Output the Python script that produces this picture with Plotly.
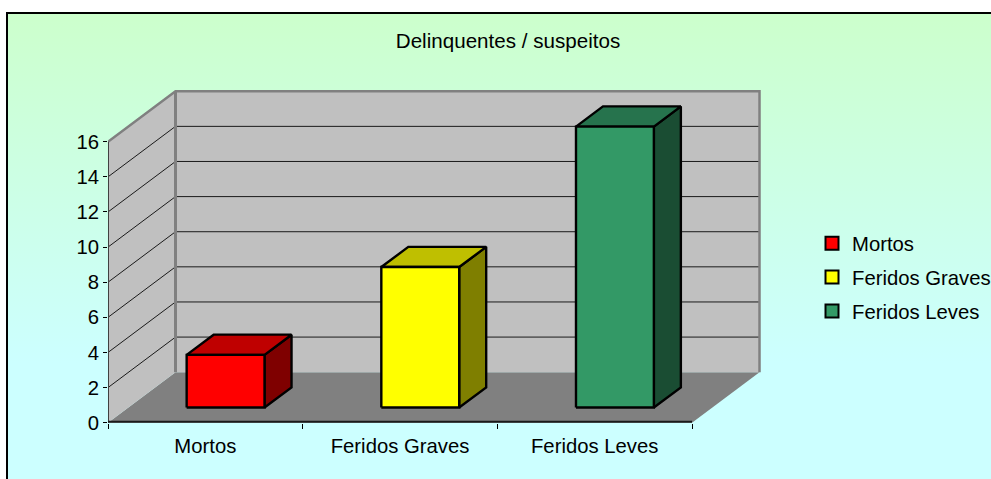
import plotly.graph_objects as go

categories = ["Mortos", "Feridos Graves", "Feridos Leves"]
values = [3, 8, 16]
y_ticks = [0, 2, 4, 6, 8, 10, 12, 14, 16]
front_colors = ["#FF0000", "#FFFF00", "#339966"]
top_colors = ["#BF0000", "#BFBF00", "#26734D"]
side_colors = ["#7F0000", "#7F7F00", "#1A4D33"]
title = "Delinquentes / suspeitos"

W, H = 991, 479
FONT = dict(family="Liberation Sans, Arial, sans-serif", size=20.3, color="#000000")

# scale of the chart axes, in pixels per data unit
PX_CAT = 194.67
PX_VAL = 17.56
LEFT, BOTTOM = 108, 422.7
# oblique projection: depth 0 = front plane, depth 1 = back wall
DX = 67.5 / PX_CAT
DY = 50.5 / PX_VAL
YMAX = y_ticks[-1]
XMIN, XMAX = -0.5, len(categories) - 0.5
PAD_X, PAD_Y = 3 / PX_CAT, 3 / PX_VAL
X_TOP = XMAX + DX + PAD_X
Y_TOP = YMAX + DY + PAD_Y


def proj(cat, val, depth):
    return cat + DX * depth, val + DY * depth


def poly(points, fill=None, line=None, width=0, closed=True):
    pts = [proj(*p) for p in points]
    if closed:
        pts.append(pts[0])
    return go.Scatter(
        x=[p[0] for p in pts], y=[p[1] for p in pts],
        xaxis="x2", yaxis="y2", mode="lines",
        fill="toself" if fill else None,
        fillcolor=fill,
        line=dict(color=line or "rgba(0,0,0,0)", width=width),
        showlegend=False, hoverinfo="skip",
    )


fig = go.Figure()

# chart-area background with vertical gradient
fig.add_trace(go.Scatter(
    x=[0, 1, 1, 0, 0], y=[0, 0, 1, 1, 0], mode="lines", fill="toself",
    fillgradient=dict(type="vertical",
                      colorscale=[[0, "#CCFFFF"], [0.25, "#CCFFFF"], [1, "#CCFFCC"]]),
    line=dict(width=0), showlegend=False, hoverinfo="skip",
))

# walls and floor
fig.add_trace(poly([(XMIN, 0, 0), (XMAX, 0, 0), (XMAX, 0, 1), (XMIN, 0, 1)], fill="#808080"))
fig.add_trace(poly([(XMIN, 0, 0), (XMIN, YMAX, 0), (XMIN, YMAX, 1), (XMIN, 0, 1)], fill="#C0C0C0"))
fig.add_trace(poly([(XMIN, 0, 1), (XMIN, YMAX, 1), (XMAX, YMAX, 1), (XMAX, 0, 1)], fill="#C0C0C0"))

# gridlines
for v in y_ticks[1:-1]:
    fig.add_trace(poly([(XMIN, v, 0), (XMIN, v, 1), (XMAX, v, 1)], line="#1A1A1A", width=1, closed=False))

# wall edges
fig.add_trace(poly([(XMIN, YMAX, 0), (XMIN, YMAX, 1), (XMAX, YMAX, 1), (XMAX, 0, 1)],
                   line="#808080", width=2.5, closed=False))
fig.add_trace(poly([(XMIN, 0, 1), (XMIN, YMAX, 1)], line="#808080", width=3, closed=False))

# front axis lines (the real axes extend further, to hold the depth of the chart)
fig.add_trace(poly([(XMIN, 0, 0), (XMIN, YMAX, 0)], line="#404040", width=2, closed=False))
fig.add_trace(poly([(XMIN, 0, 0), (XMAX, 0, 0)], line="#1A1A1A", width=4, closed=False))

# bars
BW = 0.2
D0, D1 = 0.3, 0.7
for i, (name, v) in enumerate(zip(categories, values)):
    l, r = i - BW, i + BW
    fig.add_trace(poly([(r, 0, D0), (r, 0, D1), (r, v, D1), (r, v, D0)],
                       fill=side_colors[i], line="#000000", width=2.4))
    fig.add_trace(poly([(l, v, D0), (r, v, D0), (r, v, D1), (l, v, D1)],
                       fill=top_colors[i], line="#000000", width=2.4))
    fig.add_trace(poly([(l, 0, D0), (r, 0, D0), (r, v, D0), (l, v, D0)],
                       fill=front_colors[i], line="#000000", width=2.4))

# legend entries
for i, name in enumerate(categories):
    fig.add_trace(go.Scatter(
        x=[None], y=[None], xaxis="x2", yaxis="y2", mode="markers", name=name,
        legendgroup=name,
        marker=dict(symbol="square", size=13, color=front_colors[i],
                    line=dict(color="#000000", width=2)),
    ))

fig.update_layout(
    width=W, height=H, margin=dict(l=0, r=0, t=0, b=0, autoexpand=False),
    paper_bgcolor="#FFFFFF", plot_bgcolor="rgba(0,0,0,0)",
    font=FONT,
    title=dict(text=title, x=508 / W, xanchor="center", y=1 - 41 / H, yanchor="middle",
               font=dict(family=FONT["family"], size=20.6, color="#000000")),
    xaxis=dict(domain=[8 / W, 1], range=[0, 1], side="top", showline=True, linecolor="#000000",
               linewidth=1.5, showgrid=False, zeroline=False, showticklabels=False, ticks=""),
    yaxis=dict(domain=[0, 1 - 14 / H], range=[0, 1], side="left", showline=True, linecolor="#000000",
               linewidth=1.5, showgrid=False, zeroline=False, showticklabels=False, ticks=""),
    xaxis2=dict(domain=[LEFT / W, (LEFT + (X_TOP - XMIN) * PX_CAT) / W], range=[XMIN, X_TOP], anchor="y2",
                tickmode="array", tickvals=list(range(len(categories))), ticktext=categories,
                ticks="outside", ticklen=5, tickwidth=0, tickcolor="rgba(0,0,0,0)",
                showline=False, showgrid=False, zeroline=False,
                minor=dict(tickmode="array", tickvals=[XMIN + k for k in range(len(categories) + 1)],
                           ticks="outside", ticklen=5, tickwidth=1, tickcolor="#000000", showgrid=False),
                ),
    yaxis2=dict(domain=[(H - BOTTOM) / H, (H - BOTTOM + Y_TOP * PX_VAL) / H], range=[0, Y_TOP], anchor="x2",
                tickmode="array", tickvals=y_ticks,
                ticks="outside", ticklen=4, tickwidth=1, tickcolor="#000000",
                showline=False, showgrid=False, zeroline=False),
    legend=dict(x=812 / W, xanchor="left", y=1 - 277.5 / H, yanchor="middle",
                bgcolor="rgba(0,0,0,0)", borderwidth=0, tracegroupgap=4.5,
                font=FONT),
    showlegend=True,
)

fig.write_html("out.html", config=dict(displayModeBar=False),
               post_script="document.body.style.margin='0';")
